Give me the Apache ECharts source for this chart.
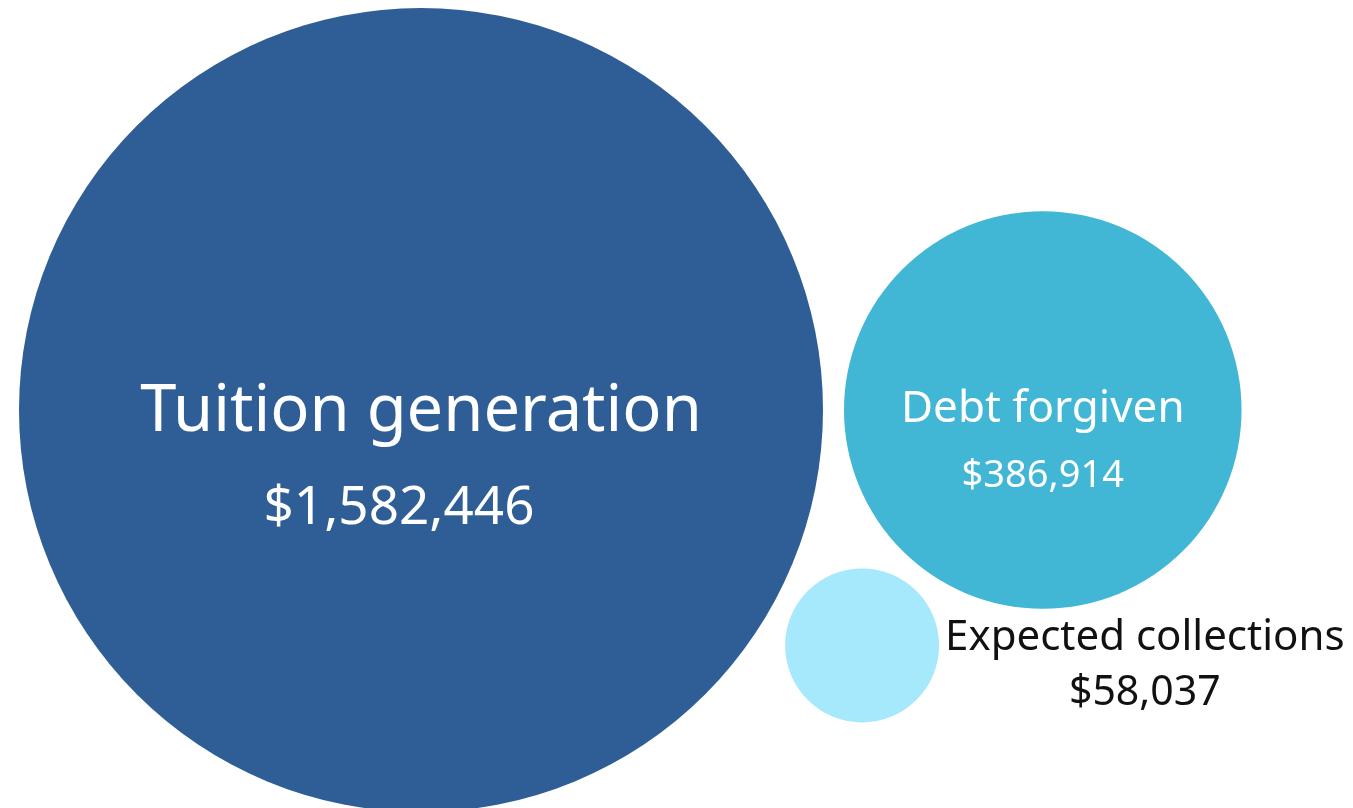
<!DOCTYPE html>
<html><head><meta charset="utf-8">
<script src="https://cdn.jsdelivr.net/npm/echarts@6/dist/echarts.min.js"></script>
<style>html,body{margin:0;padding:0;background:#fff}#c{width:1353px;height:808px}</style>
</head><body><div id="c"></div>
<script>
var categories = ['Tuition generation', 'Debt forgiven', 'Expected collections'];
var values = [1582446, 386914, 58037];
var valueLabels = ['$1,582,446', '$386,914', '$58,037'];
var colors = ['#2E5E95', '#41B6D5', '#A6E8FC'];

var W = 1353, H = 808;
var k = 402 / Math.sqrt(values[0]);   // px radius per sqrt(value)
var gap = 21;
function rad(v){ return k * Math.sqrt(v); }
var r = values.map(rad);
// simple packing: largest at left, second to its right, third nestled below between them
var c0 = [19 + r[0], 410];
var c1 = [c0[0] + r[0] + gap + r[1], c0[1]];
var d0 = r[0] + gap + r[2], d1 = r[1] + gap + r[2];
var dx = c1[0] - c0[0];
var a = (d0*d0 - d1*d1 + dx*dx) / (2*dx);
var h = Math.sqrt(d0*d0 - a*a);
var c2 = [c0[0] + a, c0[1] + h];
var centers = [c0, c1, c2];

var font = '"Noto Sans", sans-serif';
var data = categories.map(function(name, i){
  var item = { name: name, value: [centers[i][0], centers[i][1], values[i]], itemStyle: { color: colors[i], opacity: 1 } };
  var fmt = '{a|' + name + '}\n{b|' + valueLabels[i] + '}';
  if (i === 0) {
    item.label = { show: true, position: 'inside', offset: [0, 44], formatter: fmt, opacity: 1,
      rich: { a: { fontSize: 65, color: '#fff', fontFamily: font, lineHeight: 110, align: 'center' },
              b: { fontSize: 53, color: '#fff', fontFamily: font, lineHeight: 84, align: 'center', padding: [0, 44, 0, 0] } } };
  } else if (i === 1) {
    item.label = { show: true, position: 'inside', offset: [0, 30], formatter: fmt, opacity: 1,
      rich: { a: { fontSize: 44, color: '#fff', fontFamily: font, lineHeight: 72, align: 'center' },
              b: { fontSize: 38, color: '#fff', fontFamily: font, lineHeight: 62, align: 'center' } } };
  } else {
    item.label = { show: true, position: 'right', distance: 6, offset: [0, 20], formatter: fmt, opacity: 1,
      rich: { a: { fontSize: 42, color: '#111', fontFamily: font, lineHeight: 55, align: 'center' },
              b: { fontSize: 41, color: '#111', fontFamily: font, lineHeight: 55, align: 'center' } } };
  }
  return item;
});

var chart = echarts.init(document.getElementById('c'), null, { renderer: 'canvas' });
chart.setOption({
  backgroundColor: '#fff',
  animation: false,
  grid: { left: 0, right: 0, top: 0, bottom: 0 },
  xAxis: { type: 'value', min: 0, max: W, show: false },
  yAxis: { type: 'value', min: 0, max: H, inverse: true, show: false },
  series: [{
    type: 'scatter',
    symbol: 'circle',
    symbolSize: function(v){ return 2 * rad(v[2]); },
    itemStyle: { opacity: 1 },
    data: data,
    emphasis: { disabled: true }
  }]
});
</script></body></html>
